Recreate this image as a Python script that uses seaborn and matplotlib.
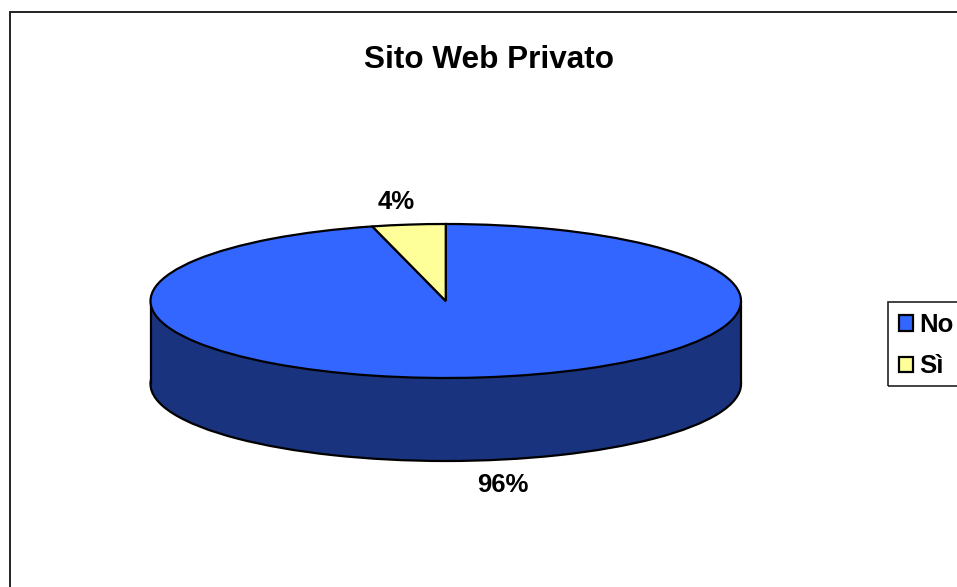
import matplotlib
matplotlib.use("Agg")
import matplotlib.pyplot as plt
from matplotlib.patches import Rectangle
import seaborn as sns

# values
labels = ["No", "Sì"]
values = [96, 4]
pct_labels = ["96%", "4%"]
top_colors = ["#3366ff", "#ffff99"]
side_color = "#19337f"
title = "Sito Web Privato"

sns.set_theme(style="white")
plt.rcParams["font.family"] = ["Liberation Sans", "DejaVu Sans"]
plt.rcParams["font.weight"] = "bold"
plt.rcParams["legend.labelcolor"] = "black"

W, H = 957, 587
fig = plt.figure(figsize=(W / 100, H / 100), dpi=100, facecolor="white")

# outer chart frame, runs off the right and bottom edges
fig.add_artist(Rectangle((9.5 / W, -0.05), 1.0, 1.05 - 11.5 / H, transform=fig.transFigure,
                         fill=False, edgecolor="#222222", linewidth=1.4))

# top ellipse of the pie: x 150..741, y 224..378 px
cx_l, cx_r, cy_t, cy_b = 150.5, 741, 224, 378
ax = fig.add_axes([cx_l / W, 1 - cy_b / H, (cx_r - cx_l) / W, (cy_b - cy_t) / H])
depth = 83 / ((cy_b - cy_t) / 2)
edge = {"edgecolor": "black", "linewidth": 1.6}

# side of the cylinder
ax.pie([1], colors=[side_color], radius=1, center=(0, -depth), wedgeprops=edge)
ax.add_patch(Rectangle((-1, -depth), 2, depth, facecolor=side_color, edgecolor="none", zorder=1.5))
ax.plot([-1, -1], [0, -depth], color="black", lw=1.6, zorder=1.6, clip_on=False)
ax.plot([1, 1], [0, -depth], color="black", lw=1.6, zorder=1.6, clip_on=False)

# top of the cylinder
wedges, _ = ax.pie(values, colors=top_colors, startangle=90, counterclock=False,
                   radius=1, wedgeprops=edge)
for w in wedges:
    w.set_zorder(2)
ax.set_aspect("auto")
ax.set_xlim(-1, 1)
ax.set_ylim(-1, 1)
ax.axis("off")
for p in ax.patches:
    p.set_clip_on(False)

fig.text(488.5 / W, 1 - 60 / H, title, ha="center", va="center", fontsize=22.7, fontweight="bold", color="black")
fig.text(396 / W, 1 - 202 / H, pct_labels[1], ha="center", va="center", fontsize=18.5, fontweight="bold", color="black")
fig.text(502.5 / W, 1 - 485 / H, pct_labels[0], ha="center", va="center", fontsize=18.5, fontweight="bold", color="black")

# legend box drawn apart from the entries so its padding can differ per side
fig.add_artist(Rectangle((887.5 / W, 1 - 386 / H), 0.2, 84.5 / H, transform=fig.transFigure,
                         fill=False, edgecolor="#222222", linewidth=1.2))
fig.legend(wedges, labels, loc="upper left", bbox_to_anchor=(899 / W, 1 - 313 / H),
           bbox_transform=fig.transFigure, frameon=False,
           fontsize=18.5, handlelength=0.55, handleheight=0.55, handletextpad=0.25,
           labelspacing=0.68, borderpad=0, borderaxespad=0)

fig.savefig("out.png", dpi=100, facecolor="white")
